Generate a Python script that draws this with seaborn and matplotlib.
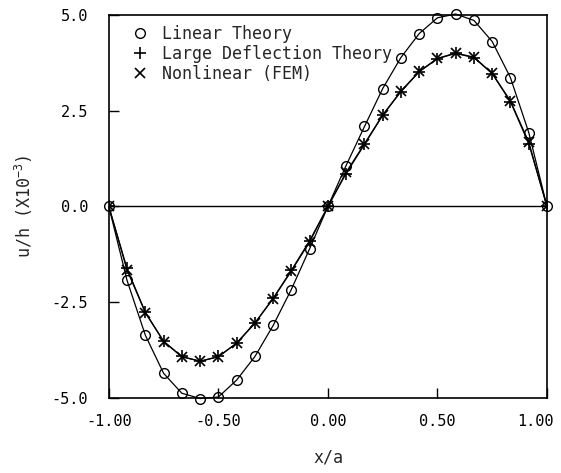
import seaborn as sns
import matplotlib.pyplot as plt
import matplotlib.transforms as mtransforms
from matplotlib.lines import Line2D

# x/a stations (every 1/12 of the half span)
x_a = [-1.0, -0.917, -0.833, -0.75, -0.667, -0.583, -0.5, -0.417, -0.333, -0.25, -0.167, -0.083,
       0.0, 0.083, 0.167, 0.25, 0.333, 0.417, 0.5, 0.583, 0.667, 0.75, 0.833, 0.917, 1.0]

linear_theory = [0.0, -1.93, -3.37, -4.36, -4.88, -5.02, -4.98, -4.54, -3.92, -3.11, -2.17, -1.10,
                 0.0, 1.07, 2.09, 3.08, 3.89, 4.52, 4.93, 5.03, 4.86, 4.31, 3.37, 1.93, 0.0]

large_deflection = [0.0, -1.62, -2.77, -3.52, -3.92, -4.05, -3.92, -3.58, -3.05, -2.40, -1.67, -0.89,
                    0.0, 0.86, 1.62, 2.38, 3.00, 3.52, 3.86, 4.00, 3.89, 3.47, 2.74, 1.64, 0.0]

nonlinear_fem = [0.0, -1.66, -2.78, -3.53, -3.93, -4.04, -3.93, -3.57, -3.04, -2.41, -1.69, -0.92,
                 0.0, 0.89, 1.64, 2.39, 3.01, 3.53, 3.87, 4.01, 3.90, 3.48, 2.76, 1.68, 0.0]

x_ticks = [-1.0, -0.5, 0.0, 0.5, 1.0]
x_tick_labels = ['-1.00', '-0.50', '0.00', '0.50', '1.00']
y_ticks = [-5.0, -2.5, 0.0, 2.5, 5.0]
y_tick_labels = ['-5.0', '-2.5', '0.0', '2.5', '5.0']

sns.set_style('ticks')
plt.rcParams['font.family'] = ['DejaVu Sans Mono', 'DejaVu Sans']
plt.rcParams['mathtext.default'] = 'regular'

fig = plt.figure(figsize=(5.61, 4.73), dpi=100)
ax = fig.add_axes([0.194, 0.159, 0.781, 0.809])

ax.axhline(0, color='black', lw=1.0, zorder=1)

sns.lineplot(x=x_a, y=linear_theory, ax=ax, color='black', lw=0.9, marker='o', markersize=7,
             markerfacecolor='none', markeredgecolor='black', markeredgewidth=1.0, clip_on=False)
sns.lineplot(x=x_a, y=large_deflection, ax=ax, color='black', lw=0.9, marker='+', markersize=9,
             markeredgecolor='black', markeredgewidth=1.2)
sns.lineplot(x=x_a, y=nonlinear_fem, ax=ax, color='black', lw=0.9, marker='x', markersize=7,
             markeredgecolor='black', markeredgewidth=1.2)

ax.set_xlim(-1.0, 1.0)
ax.set_ylim(-5.0, 5.0)
ax.set_xticks(x_ticks)
ax.set_xticklabels(x_tick_labels)
ax.set_yticks(y_ticks)
ax.set_yticklabels(y_tick_labels)
ax.tick_params(direction='in', length=7, width=1.0, labelsize=11, colors='black')
ax.tick_params(axis='x', pad=12)
ax.tick_params(axis='y', pad=15)
for s in ax.spines.values():
    s.set_linewidth(1.2)
    s.set_color('black')

# keep the last x label inside the figure, as in the original
last = ax.get_xticklabels()[-1]
last.set_transform(last.get_transform() + mtransforms.ScaledTranslation(-8 / 72, 0, fig.dpi_scale_trans))

ax.set_xlabel('x/a', fontsize=12, labelpad=14)
ax.set_ylabel('u/h (X10$^{-3}$)', fontsize=12, labelpad=12)

handles = [
    Line2D([], [], ls='none', marker='o', mfc='none', mec='black', ms=7),
    Line2D([], [], ls='none', marker='+', mec='black', ms=9, mew=1.2),
    Line2D([], [], ls='none', marker='x', mec='black', ms=7, mew=1.2),
]
ax.legend(handles, ['Linear Theory', 'Large Deflection Theory', 'Nonlinear (FEM)'],
          loc='upper left', frameon=False, fontsize=12, handlelength=1.0,
          handletextpad=0.8, labelspacing=0.12, borderaxespad=0.2,
          bbox_to_anchor=(0.03, 1.0))

fig.savefig('out.png', dpi=100)
